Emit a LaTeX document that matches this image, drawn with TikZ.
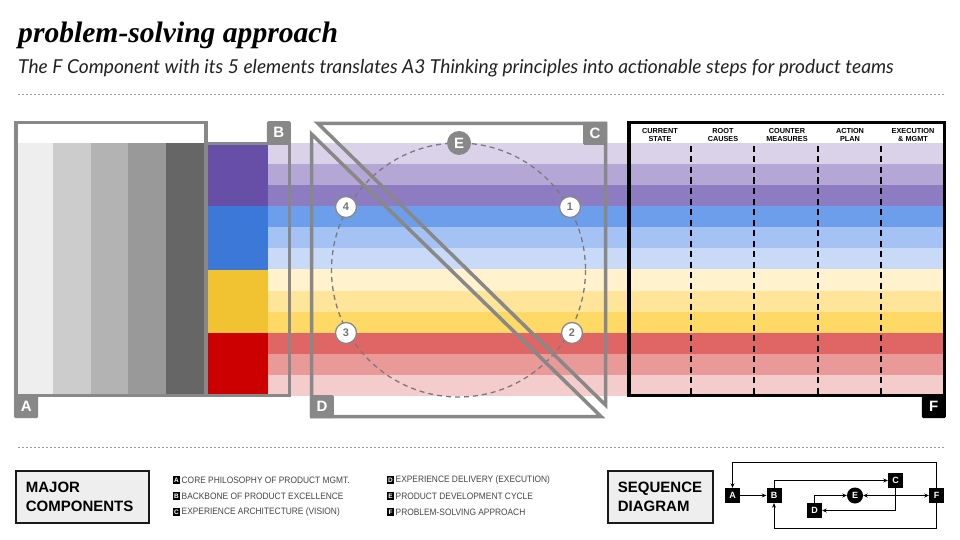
\documentclass[tikz,border=0pt]{standalone}
\usepackage{fontspec}
\setmainfont{Liberation Sans}
\newfontfamily\titlefont{Liberation Serif}
\newfontfamily\subfont{Lato}
\newfontfamily\legfont{Liberation Sans}[FakeStretch=0.9]
\usetikzlibrary{arrows.meta}
\definecolor{frgray}{HTML}{888888}
\definecolor{dotgray}{HTML}{9A9A9A}
\definecolor{st1}{HTML}{D9D2E9}
\definecolor{st2}{HTML}{B4A7D6}
\definecolor{st3}{HTML}{8E7CC3}
\definecolor{st4}{HTML}{6D9EEB}
\definecolor{st5}{HTML}{A4C2F4}
\definecolor{st6}{HTML}{C9DAF8}
\definecolor{st7}{HTML}{FFF2CC}
\definecolor{st8}{HTML}{FFE599}
\definecolor{st9}{HTML}{FFD966}
\definecolor{st10}{HTML}{E06666}
\definecolor{st11}{HTML}{EA9999}
\definecolor{st12}{HTML}{F4CCCC}
\definecolor{bpur}{HTML}{674EA7}
\definecolor{bblu}{HTML}{3C78D8}
\definecolor{byel}{HTML}{F1C232}
\definecolor{bred}{HTML}{CC0000}
\definecolor{ga1}{HTML}{EEEEEE}
\definecolor{ga2}{HTML}{CCCCCC}
\definecolor{ga3}{HTML}{B3B3B3}
\definecolor{ga4}{HTML}{999999}
\definecolor{ga5}{HTML}{666666}
\definecolor{boxfill}{HTML}{EEEEEE}
\definecolor{legtext}{HTML}{444444}
\definecolor{subtext}{HTML}{222222}
\begin{document}
\begin{tikzpicture}[x=1pt,y=-1pt,
  frame/.style={draw=frgray,line width=3.5pt},
  glab/.style={fill=frgray,text=white,font=\bfseries\fontsize{15}{15}\selectfont,
    minimum width=24pt,minimum height=23pt,inner sep=0pt,rounded corners=1.5pt},
  blab/.style={glab,fill=black},
  sepline/.style={draw=dotgray,line width=0.8pt,dash pattern=on 2pt off 2pt},
  numnode/.style={circle,draw=frgray,line width=1.3pt,fill=white,text=frgray!85!black,
    font=\bfseries\fontsize{11}{11}\selectfont,minimum size=21pt,inner sep=0pt},
  enode/.style={circle,fill=frgray,text=white,font=\bfseries\fontsize{15}{15}\selectfont,
    minimum size=24pt,inner sep=0pt},
  ecircle/.style={draw=frgray!90!black,line width=1.3pt,dash pattern=on 5pt off 4pt},
  fdash/.style={draw=black,line width=2pt,dash pattern=on 6pt off 4.5pt},
  colhead/.style={font=\bfseries\fontsize{7.3}{7.8}\selectfont,align=center,inner sep=0pt},
  legbox/.style={draw=black!90,line width=1.8pt,fill=boxfill,minimum width=133pt,
    minimum height=52pt,text width=113pt,align=left,inner xsep=10pt,
    font=\bfseries\fontsize{15}{19.5}\selectfont},
  legsq/.style={fill=black,text=white,font=\bfseries\fontsize{6.5}{6.5}\selectfont,
    minimum width=7.5pt,minimum height=8.5pt,inner sep=0pt},
  legtxt/.style={anchor=west,text=legtext,inner sep=0pt,
    font=\legfont\fontsize{9.3}{9.3}\selectfont},
  sq/.style={fill=black,text=white,font=\bfseries\fontsize{9}{9}\selectfont,
    minimum size=15pt,inner sep=0pt},
  sqc/.style={circle,fill=black,text=white,font=\bfseries\fontsize{9}{9}\selectfont,
    minimum size=16pt,inner sep=0pt},
  conn/.style={draw=black,line width=0.9pt,-{Stealth[length=4.5pt,width=4pt]}},
]
\useasboundingbox (0,0) rectangle (960,540);

% title
\node[anchor=base west,inner sep=0pt] (title) at (18,43)
  {\titlefont\bfseries\itshape\fontsize{29.6}{30}\selectfont problem-solving approach};
\node[anchor=base west,inner sep=0pt,text=subtext] (subtitle) at (18,74)
  {\subfont\itshape\fontsize{19.2}{21}\selectfont The F Component with its 5 elements translates A3 Thinking principles into actionable steps for product teams};
\coordinate (sepL1) at (18,94);
\coordinate (sepR1) at (945,94);
\draw[sepline] (sepL1) -- (sepR1);

% stripes
\foreach \c [count=\i from 0] in {st1,st2,st3,st4,st5,st6,st7,st8,st9,st10,st11,st12} {
  \fill[\c] (268,{143+21.08*\i}) rectangle (944,{143+21.08*(\i+1)});
}

% B blocks
\fill[bpur] (207,143) rectangle (268,206.2);
\fill[bblu] (207,206.2) rectangle (268,269.5);
\fill[byel] (207,269.5) rectangle (268,332.7);
\fill[bred] (207,332.7) rectangle (268,395);

% A columns
\fill[ga1] (17,143) rectangle (53,395);
\fill[ga2] (53,143) rectangle (91,395);
\fill[ga3] (91,143) rectangle (128,395);
\fill[ga4] (128,143) rectangle (166,395);
\fill[ga5] (166,143) rectangle (206,395);

% frames A and B
\draw[frame] (15.75,122.75) rectangle (206,395.25);
\draw[frame] (206,143.5) rectangle (289.25,395.25);
\node[glab,anchor=north west] (labA) at (14,395) {A};
\node[glab,anchor=north east] (labB) at (291,121) {B};

% cycle E
\draw[ecircle] (458.5,270) circle[radius=127];

% triangles C and D
\draw[frame] (318,123.5) -- (605.5,123.5) -- (605.5,405) -- cycle;
\draw[frame] (311.5,134) -- (311.5,416.5) -- (601,416.5) -- cycle;
\node[glab,anchor=north east] (labC) at (607.25,121.75) {C};
\node[glab,anchor=south west] (labD) at (309.75,418.25) {D};

\node[enode] (E) at (459,143) {E};
\node[numnode] (n1) at (570,207) {1};
\node[numnode] (n2) at (572,333) {2};
\node[numnode] (n3) at (346,333) {3};
\node[numnode] (n4) at (346,207) {4};

% F
\foreach \x in {691,754,818,881} {
  \draw[fdash] (\x,146) -- (\x,394);
}
\draw[draw=black,line width=3.5pt] (628.75,122.75) rectangle (944.25,395.25);
\node[blab,anchor=north east] (labF) at (946,395) {F};
\node[colhead] (h1) at (660,135) {CURRENT\\STATE};
\node[colhead] (h2) at (723,135) {ROOT\\CAUSES};
\node[colhead] (h3) at (787,135) {COUNTER\\MEASURES};
\node[colhead] (h4) at (850,135) {ACTION\\PLAN};
\node[colhead] (h5) at (913,135) {EXECUTION\\\&\ MGMT};

% lower separator
\coordinate (sepL2) at (18,447);
\coordinate (sepR2) at (945,447);
\draw[sepline] (sepL2) -- (sepR2);

% legend
\node[legbox,anchor=north west] (major) at (15,470) {MAJOR\\COMPONENTS};
\node[legsq] (kA) at (176.5,480) {A};
\node[legtxt] (tA) at (181.5,480) {CORE PHILOSOPHY OF PRODUCT MGMT.};
\node[legsq] (kB) at (176.5,496) {B};
\node[legtxt] (tB) at (181.5,496) {BACKBONE OF PRODUCT EXCELLENCE};
\node[legsq] (kC) at (176.5,512) {C};
\node[legtxt] (tC) at (181.5,512) {EXPERIENCE ARCHITECTURE (VISION)};
\node[legsq] (kD) at (390.5,480) {D};
\node[legtxt] (tD) at (395.5,480) {EXPERIENCE DELIVERY (EXECUTION)};
\node[legsq] (kE) at (390.5,496) {E};
\node[legtxt] (tE) at (395.5,496) {PRODUCT DEVELOPMENT CYCLE};
\node[legsq] (kF) at (390.5,512) {F};
\node[legtxt] (tF) at (395.5,512) {PROBLEM-SOLVING APPROACH};

\node[legbox,anchor=north west,minimum width=105pt,text width=85pt] (seq) at (607,470) {SEQUENCE\\DIAGRAM};

% sequence diagram
\node[sq] (sA) at (732.5,495.5) {A};
\node[sq] (sB) at (774,495.5) {B};
\node[sq] (sC) at (895.5,480.5) {C};
\node[sq] (sD) at (814.5,510.5) {D};
\node[sqc] (sE) at (855,495.5) {E};
\node[sq] (sF) at (936.5,495.5) {F};
\coordinate (topline) at (0,462);
\coordinate (botline) at (0,528);
\draw[conn] (sA.east) -- (sB.west);
\draw[conn] (sF.north) -- (sF.north |- topline) -| (sA.north);
\draw[conn] (sB.north) |- (sC.west);
\draw[conn] (sC.south) |- (sD.east);
\draw[conn] (sD.north) |- (sE.west);
\draw[conn,{Stealth[length=4.5pt,width=4pt]}-{Stealth[length=4.5pt,width=4pt]}] (sE.east) -- (sF.west);
\draw[conn] (sF.south) -- (sF.south |- botline) -| (sB.south);
\end{tikzpicture}
\end{document}
